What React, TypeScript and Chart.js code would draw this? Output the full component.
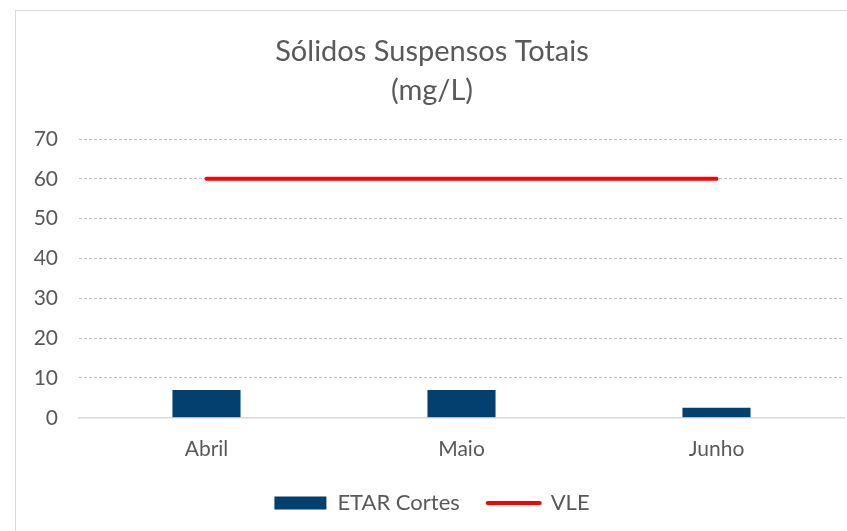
import React, { useEffect, useRef } from "react";
import { Chart, registerables } from "chart.js";

Chart.register(...registerables);

const categories = ["Abril", "Maio", "Junho"];
const etarCortes = [7, 7, 2.5];
const vle = [60, 60, 60];
const titleLines = ["Sólidos Suspensos Totais", "(mg/L)"];
const yMin = 0;
const yMax = 70;
const yStep = 10;

const FONT = "Lato, 'Open Sans', sans-serif";
const TEXT = "#595959";

export default function App() {
  const ref = useRef<HTMLCanvasElement | null>(null);

  useEffect(() => {
    if (!ref.current) return;
    const chart = new Chart(ref.current, {
      data: {
        labels: categories,
        datasets: [
          {
            type: "bar",
            label: "ETAR Cortes",
            data: etarCortes,
            backgroundColor: "#03406f",
            borderWidth: 0,
            categoryPercentage: 1,
            barPercentage: 0.267,
            order: 2,
          },
          {
            type: "line",
            label: "VLE",
            data: vle,
            borderColor: "#ff0000",
            backgroundColor: "#ff0000",
            borderWidth: 4,
            borderCapStyle: "round",
            pointRadius: 0,
            pointHoverRadius: 0,
            order: 1,
          },
        ],
      },
      options: {
        animation: false,
        responsive: false,
        maintainAspectRatio: false,
        layout: { padding: { left: 20, right: 3, top: 14, bottom: 7 } },
        plugins: {
          tooltip: { enabled: false },
          title: {
            display: true,
            text: titleLines,
            color: TEXT,
            font: { family: FONT, size: 29, weight: "normal", lineHeight: 1.345 },
            padding: { top: 18, bottom: 29 },
          },
          legend: {
            display: true,
            position: "bottom",
            labels: {
              color: TEXT,
              font: { family: FONT, size: 22 },
              usePointStyle: true,
              pointStyleWidth: 52,
              boxHeight: 13,
              padding: 11,
              sort: (a: any, b: any) => a.datasetIndex - b.datasetIndex,
              generateLabels: (c: any) => {
                const items = Chart.defaults.plugins.legend.labels.generateLabels(c);
                return items.map((it: any) => {
                  if (it.datasetIndex === 0) {
                    return {
                      ...it,
                      text: it.text + "   ",
                      pointStyle: "rect",
                      lineWidth: 0,
                      fillStyle: "#03406f",
                      strokeStyle: "#03406f",
                    };
                  }
                  return { ...it, pointStyle: "line", lineWidth: 4, strokeStyle: "#ff0000", fillStyle: "#ff0000", lineCap: "round" };
                });
              },
            },
          },
        },
        scales: {
          x: {
            grid: { display: false, drawTicks: false },
            border: { display: true, color: "#d9d9d9", width: 1.5 },
            ticks: { color: TEXT, font: { family: FONT, size: 21 }, padding: 19 },
          },
          y: {
            min: yMin,
            max: yMax,
            afterFit: (s: any) => {
              s.width = 59;
            },
            ticks: { stepSize: yStep, color: TEXT, font: { family: FONT, size: 21 }, padding: 21 },
            grid: {
              drawTicks: false,
              color: (ctx: any) => (ctx.tick && ctx.tick.value === 0 ? "rgba(0,0,0,0)" : "#bfbfbf"),
              lineWidth: 1,
            },
            border: { display: false, dash: [3, 2] },
          },
        },
      },
    } as any);
    return () => chart.destroy();
  }, []);

  return (
    <div style={{ position: "fixed", left: 0, top: 0, width: 847, height: 531, overflow: "hidden", background: "#fff" }}>
      <div
        style={{
          position: "absolute",
          left: 15,
          top: 10,
          width: 900,
          height: 600,
          border: "1px solid #d9d9d9",
          boxSizing: "border-box",
        }}
      />
      <canvas ref={ref} width={847} height={531} style={{ position: "absolute", left: 0, top: 0 }} />
    </div>
  );
}
